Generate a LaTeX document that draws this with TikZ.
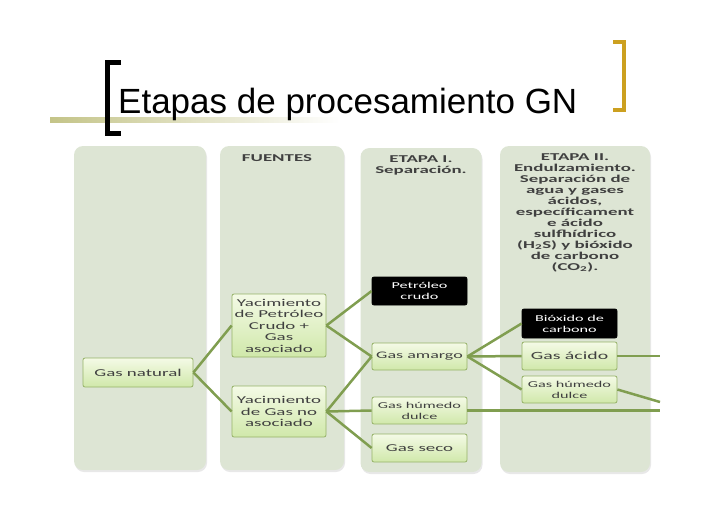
\documentclass[tikz,border=0pt]{standalone}
\usepackage{fontspec}
\setmainfont{Carlito}
\newfontfamily\titlefont{Liberation Sans}
\newfontfamily\widefont[FakeStretch=1.8]{Carlito}
\usepackage{xcolor}
\usetikzlibrary{shadows}

\definecolor{panelfill}{RGB}{221,229,212}
\definecolor{boxtop}{RGB}{244,250,230}
\definecolor{boxbot}{RGB}{208,232,170}
\definecolor{boxline}{RGB}{150,178,104}
\definecolor{linkgreen}{RGB}{128,158,80}
\definecolor{textgray}{RGB}{64,64,64}
\definecolor{bracketgold}{RGB}{204,160,32}
\definecolor{rulekhaki}{RGB}{196,196,136}

\begin{document}
\begin{tikzpicture}[
  x=1pt, y=-1pt,
  panel/.style={rounded corners=9pt, fill=panelfill,
    drop shadow={opacity=0.18, shadow xshift=1pt, shadow yshift=-2pt}},
  head/.style={font=\widefont\fontsize{10.5}{11}\selectfont\bfseries, text=textgray, align=center},
  box/.style={draw=boxline, line width=0.8pt, rounded corners=2pt, align=center,
    top color=boxtop, bottom color=boxbot, text=textgray, inner sep=1pt,
    font=\widefont\fontsize{10.5}{11.5}\selectfont},
  small/.style={font=\widefont\fontsize{9}{11}\selectfont},
  darkbox/.style={box, draw=black, top color=black, bottom color=black, text=white},
  link/.style={draw=linkgreen, line width=2.5pt}
]
\useasboundingbox (0,0) rectangle (728,515);

% title
\shade[left color=rulekhaki, right color=white] (50,117) rectangle (340,122);
\node[anchor=base west, inner sep=0pt, font=\titlefont\fontsize{35}{38}\selectfont]
  (title) at (118,113) {Etapas de procesamiento GN};
\draw[line width=5pt, black] (121,62) -- (107,62) -- (107,133) -- (121,133);
\draw[line width=4pt, bracketgold] (613,42) -- (624,42) -- (624,110) -- (613,110);

% columns
\node[panel, minimum width=132pt, minimum height=324pt] (colnat) at (140,308) {};
\node[panel, minimum width=124pt, minimum height=324pt] (colfue) at (282,308) {};
\node[panel, minimum width=121pt, minimum height=324pt] (coletI) at (421,310) {};
\node[panel, minimum width=150pt, minimum height=326pt] (coletII) at (575,309) {};

\node[head, anchor=north] (hfue) at (277,151) {FUENTES};
\node[head, anchor=north] (hetI) at (421,152) {ETAPA I.\\Separación.};
\node[head, anchor=north] (hetII) at (575,150) {ETAPA II.\\Endulzamiento.\\Separación de\\agua y gases\\ácidos,\\específicament\\e ácido\\sulfhídrico\\(H\textsubscript{2}S) y bióxido\\de carbono\\(CO\textsubscript{2}).};

% boxes
\node[box, minimum width=110pt, minimum height=29pt] (gasnat) at (138,372.5) {Gas natural};
\node[box, minimum width=94pt, minimum height=63pt] (yacpet) at (279,325.5)
  {Yacimiento\\de Petróleo\\Crudo +\\Gas\\asociado};
\node[box, minimum width=94pt, minimum height=51pt] (yacgas) at (279,411.5)
  {Yacimiento\\de Gas no\\asociado};
\node[darkbox, small, minimum width=95pt, minimum height=28pt] (petcru) at (419.5,291) {Petróleo\\crudo};
\node[box, font=\widefont\fontsize{10}{11}\selectfont, minimum width=95pt, minimum height=27pt] (gasama) at (419.5,356.5) {Gas amargo};
\node[box, small, minimum width=95pt, minimum height=27pt] (ghdI) at (419.5,410.5) {Gas húmedo\\dulce};
\node[box, minimum width=95pt, minimum height=28pt] (gasseco) at (419.5,448) {Gas seco};
\node[darkbox, small, minimum width=95pt, minimum height=29pt] (bioxi) at (569.5,323.5) {Bióxido de\\carbono};
\node[box, font=\widefont\fontsize{11}{12}\selectfont, minimum width=95pt, minimum height=28pt] (gasaci) at (569.5,356) {Gas ácido};
\node[box, small, minimum width=95pt, minimum height=27pt] (ghdII) at (569.5,389.5) {Gas húmedo\\dulce};

\coordinate (outaci) at (660,356);
\coordinate (outghdII) at (660,402);
\coordinate (outghdI) at (660,410.5);

% connectors
\draw[link] (gasnat.east) -- (yacpet.west);
\draw[link] (gasnat.east) -- (yacgas.west);
\draw[link] (yacpet.east) -- (petcru.west);
\draw[link] (yacpet.east) -- (gasama.west);
\draw[link] (yacgas.east) -- (gasama.west);
\draw[link] (yacgas.east) -- (ghdI.west);
\draw[link] (yacgas.east) -- (gasseco.west);
\draw[link] (gasama.east) -- (bioxi.west);
\draw[link] (gasama.east) -- (gasaci.west);
\draw[link] (gasama.east) -- (ghdII.west);
\draw[link] (gasaci.east) -- (outaci);
\draw[link] (ghdII.east) -- (outghdII);
\draw[link] (ghdI.east) -- (outghdI);
\end{tikzpicture}
\end{document}
